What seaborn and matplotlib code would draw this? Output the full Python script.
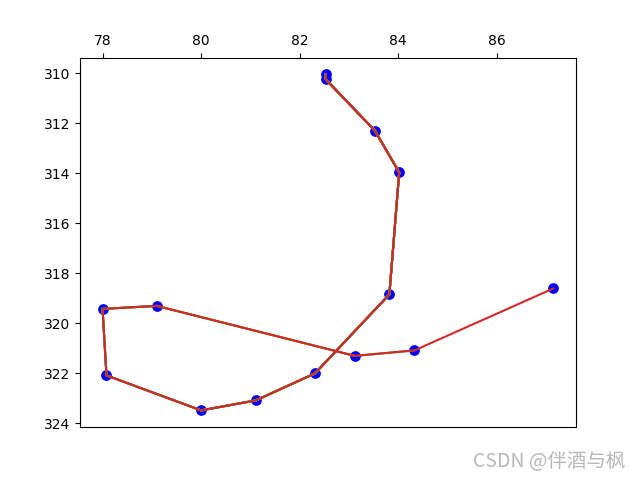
import matplotlib
matplotlib.use("Agg")
import matplotlib.pyplot as plt
import seaborn as sns
import pandas as pd

# route points (in visiting order)
xs = [82.53, 82.53, 83.53, 84.02, 83.82, 82.31, 81.11, 80.0, 78.08, 78.0, 79.1, 83.12, 84.33, 87.15]
ys = [310.04, 310.24, 312.3, 313.96, 318.84, 322.0, 323.08, 323.48, 322.08, 319.42, 319.3, 321.3, 321.08, 318.6]

df = pd.DataFrame({"x": xs, "y": ys})

fig, ax = plt.subplots(figsize=(6.4, 4.8), dpi=100)

sns.scatterplot(data=df, x="x", y="y", color="blue", edgecolor="blue", s=45, linewidth=1, ax=ax, zorder=2)

# path grows one point at a time, each step in the next cycle colour
for i in range(1, len(df) + 1):
    part = df.iloc[:i]
    sns.lineplot(data=part, x="x", y="y", estimator=None, sort=False,
                 color=f"C{(i - 1) % 10}", linewidth=1.5, ax=ax, zorder=3)

ax.xaxis.tick_top()
ax.invert_yaxis()
ax.set_xlabel("")
ax.set_ylabel("")

fig.text(0.977, 0.038, "CSDN @伴酒与枫", ha="right", va="center", fontsize=14,
         color="#b8b8b8", family=["Noto Sans CJK SC", "DejaVu Sans"])

plt.savefig("out.png", dpi=100)
